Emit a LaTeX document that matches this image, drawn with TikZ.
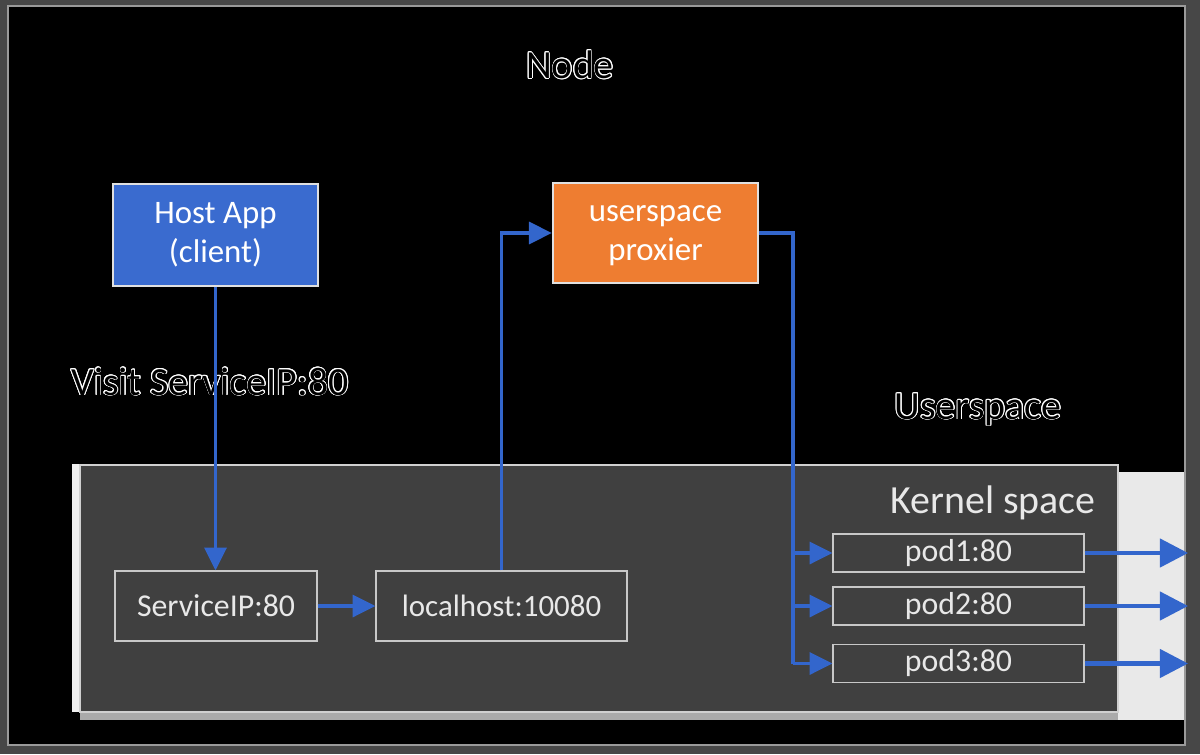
\documentclass[tikz,border=0pt]{standalone}
\usepackage{fontspec}
\setmainfont{Carlito}
\usepackage{contour}
\contourlength{0.45pt}
\usetikzlibrary{arrows.meta}
\definecolor{framegray}{HTML}{474747}
\definecolor{frameline}{HTML}{9A9A9A}
\definecolor{kernelfill}{HTML}{404040}
\definecolor{kernelline}{HTML}{D0D0D0}
\definecolor{boxline}{HTML}{C8C8C8}
\definecolor{boxtext}{HTML}{E8E8E8}
\definecolor{hostblue}{HTML}{3A6BCF}
\definecolor{arrowblue}{HTML}{3366CC}
\definecolor{proxorange}{HTML}{EE7D31}
\definecolor{lightstrip}{HTML}{E9E9E9}
\definecolor{greystrip}{HTML}{AAAAAA}
\begin{document}
\begin{tikzpicture}[x=0.02cm,y=-0.02cm,
  bigbox/.style={rectangle, draw=white!88!black, line width=1.4pt, text=white, align=center,
     minimum width=4.1cm, inner sep=0pt, font=\fontsize{18.7}{22.7}\selectfont},
  kbox/.style={rectangle, draw=boxline, line width=0.7pt, fill=kernelfill, text=boxtext,
     inner sep=0pt, font=\fontsize{18.1}{22}\selectfont},
  halotext/.style={text=black, font=\fontsize{22.7}{27}\selectfont, inner sep=0pt},
  flow/.style={draw=arrowblue, line width=2pt},
  arr/.style={flow, -{Triangle[length=13pt,width=12.5pt]}},
  outarr/.style={draw=arrowblue, line width=2.4pt, -{Triangle[length=16pt,width=16pt]}}
]
\fill[framegray] (0,0) rectangle (1200,754);
\useasboundingbox (0,0) rectangle (1200,754);
\filldraw[fill=black, draw=frameline, line width=1pt] (8,6) rectangle (1185,745);

% light strips around kernel space
\fill[white!94!black] (72,464) rectangle (80,712);
\fill[greystrip] (80,712) rectangle (1118,720);
\fill[lightstrip] (1118,472) rectangle (1184,720);

% kernel space
\filldraw[fill=kernelfill, draw=kernelline, line width=1pt] (80,465) rectangle (1118,712);

% titles
\node[halotext] (nodetitle) at (570,65) {\contour{white}{Node}};
\node[halotext] (visit) at (210,382) {\contour{white}{Visit ServiceIP:80}};
\node[halotext] (userspace) at (978,410) {\contour{white}{Userspace}};
\node[text=boxtext, font=\fontsize{22.7}{27}\selectfont, inner sep=0pt] (kernel) at (993,503) {Kernel space};

% top boxes
\node[bigbox, fill=hostblue, minimum height=2.04cm] (host) at (215.5,235) {\strut Host App\\\strut(client)};
\node[bigbox, fill=proxorange, minimum height=2.0cm] (px) at (655.5,233) {\strut userspace\\\strut proxier};

% kernel boxes
\node[kbox, minimum width=4.04cm, minimum height=1.4cm] (sip) at (216,606) {ServiceIP:80};
\node[kbox, minimum width=5.02cm, minimum height=1.4cm, font=\fontsize{17.6}{21}\selectfont] (lh) at (501.5,606) {localhost:10080};
\node[kbox, minimum width=5.02cm, minimum height=0.76cm] (pod1) at (958.5,553) {pod1:80};
\node[kbox, minimum width=5.02cm, minimum height=0.76cm] (pod2) at (958.5,606) {pod2:80};
\node[kbox, minimum width=5.02cm, minimum height=0.76cm] (pod3) at (958.5,663.5) {pod3:80};

% connectors
\draw[arr] (host.south) -- (host.south |- sip.north);
\draw[arr] (sip.east) -- (lh.west);
\draw[arr] (lh.north) |- (px.west);
\coordinate (j) at (793,233);
\draw[flow] (px.east) -- (j) -- (j |- pod3.west);
\draw[arr] (j |- pod1.west) -- (pod1.west);
\draw[arr] (j |- pod2.west) -- (pod2.west);
\draw[arr] (j |- pod3.west) -- (pod3.west);
\coordinate (e1) at (1188,553);
\coordinate (e2) at (1188,606);
\coordinate (e3) at (1188,663.5);
\draw[outarr] (pod1.east) -- (e1);
\draw[outarr] (pod2.east) -- (e2);
\draw[outarr] (pod3.east) -- (e3);
\end{tikzpicture}
\end{document}
